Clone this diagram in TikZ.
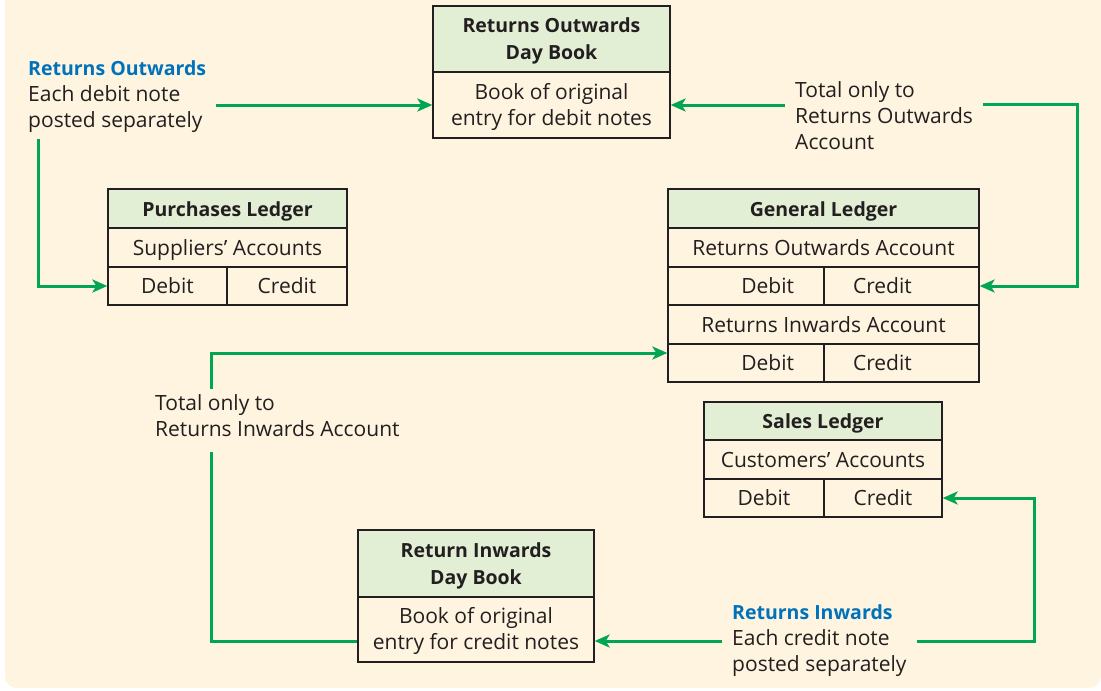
\documentclass[tikz,border=0pt]{standalone}
\usepackage{fontspec}
\setmainfont{Open Sans}
\usetikzlibrary{arrows.meta}
\definecolor{cream}{HTML}{FEF4DF}
\definecolor{headgreen}{HTML}{E3EFD5}
\definecolor{flowgreen}{HTML}{00A651}
\definecolor{noteblue}{HTML}{0072BC}
\definecolor{ink}{HTML}{231F20}
\newcommand{\regfont}{\fontsize{21}{26}\selectfont}
\newcommand{\headfont}{\fontsize{19.5}{27}\selectfont\bfseries}
\tikzset{
  cell/.style={draw=ink, line width=1.3pt, fill=cream, text=ink, font=\regfont, inner sep=0pt, align=center,
    text height=15pt, text depth=0pt},
  twoline/.style={text height=40pt, text depth=0pt},
  head/.style={cell, fill=headgreen, font=\headfont},
  debitcell/.style={cell, text width=96pt, inner xsep=30pt, align=right, minimum height=38pt},
  creditcell/.style={cell, text width=97pt, inner xsep=29pt, align=left, minimum height=38pt},
  note/.style={text=ink, font=\regfont, align=left, inner xsep=10pt, inner ysep=6pt, anchor=west},
  flow/.style={draw=flowgreen, line width=3pt, -{Stealth[length=15pt,width=13pt,inset=4pt]}},
  link/.style={draw=flowgreen, line width=3pt},
}
\begin{document}
\begin{tikzpicture}[x=1pt, y=-1pt]
  \useasboundingbox (0,0) rectangle (1101,691);
  \fill[cream, rounded corners=12pt] (5,-20) rectangle (1101,688);

  % day books
  \node[head, twoline, text height=41pt, minimum width=237pt, minimum height=66pt] (rodbHead) at (551.5,39) {Returns Outwards\\Day Book};
  \node[cell, twoline, minimum width=237pt, minimum height=66pt] (rodbBody) at (551.5,105) {Book of original\\entry for debit notes};
  \node[head, twoline, text height=41pt, minimum width=236pt, minimum height=67pt] (ridbHead) at (476,563.5) {Return Inwards\\Day Book};
  \node[cell, twoline, minimum width=236pt, minimum height=65pt] (ridbBody) at (476,629.5) {Book of original\\entry for credit notes};

  % purchases ledger
  \node[head, minimum width=239pt, minimum height=39pt] (plHead) at (227.5,208.5) {Purchases Ledger};
  \node[cell, minimum width=239pt, minimum height=39pt] (plAcc) at (227.5,247.5) {Suppliers’ Accounts};
  \node[cell, minimum width=119pt, minimum height=38pt] (plDebit) at (167.5,286) {Debit};
  \node[cell, minimum width=120pt, minimum height=38pt] (plCredit) at (287,286) {Credit};

  % general ledger
  \node[head, minimum width=311pt, minimum height=39pt] (glHead) at (823.5,208.5) {General Ledger};
  \node[cell, minimum width=311pt, minimum height=39pt] (glOut) at (823.5,247.5) {Returns Outwards Account};
  \node[debitcell] (glOutDebit) at (746,286) {Debit};
  \node[creditcell] (glOutCredit) at (901.5,286) {Credit};
  \node[cell, minimum width=311pt, minimum height=39pt] (glIn) at (823.5,324.5) {Returns Inwards Account};
  \node[debitcell] (glInDebit) at (746,363) {Debit};
  \node[creditcell] (glInCredit) at (901.5,363) {Credit};

  % sales ledger
  \node[head, minimum width=238pt, minimum height=38pt] (slHead) at (823,421) {Sales Ledger};
  \node[cell, minimum width=238pt, minimum height=39pt] (slAcc) at (823,459.5) {Customers’ Accounts};
  \node[cell, minimum width=120pt, minimum height=38pt] (slDebit) at (764,498) {Debit};
  \node[cell, minimum width=118pt, minimum height=38pt] (slCredit) at (883,498) {Credit};

  % notes
  \node[note] (ro) at (18,97) {{\headfont\color{noteblue}Returns Outwards}\\Each debit note\\posted separately};
  \node[note] (tro) at (785,116) {Total only to\\Returns Outwards\\Account};
  \node[note] (tri) at (145,416) {Total only to\\Returns Inwards Account};
  \node[note] (rin) at (722,641) {{\headfont\color{noteblue}Returns Inwards}\\Each credit note\\posted separately};

  % turning points
  \coordinate (outTurn) at (1077,104);
  \coordinate (inTurn) at (211,641);
  \coordinate (slTurn) at (1034,641);

  % connectors
  \draw[flow] (ro.east |- rodbBody.west) -- (rodbBody.west);
  \draw[flow] ([xshift=20pt]ro.south west) |- (plDebit.west);
  \draw[flow] (tro.west |- rodbBody.east) -- (rodbBody.east);
  \draw[flow] (tro.east |- outTurn) -- (outTurn) |- (glOutCredit.east);
  \draw[link] (inTurn -| ridbBody.west) -- (inTurn) -- ([yshift=-9pt]inTurn |- tri.south);
  \draw[flow] (inTurn |- tri.north) |- ([yshift=10pt]glInDebit.west);
  \draw[flow] (rin.east) -- (slTurn) |- (slCredit.east);
  \draw[flow] (rin.west) -- (rin.west -| ridbBody.east);
\end{tikzpicture}
\end{document}
